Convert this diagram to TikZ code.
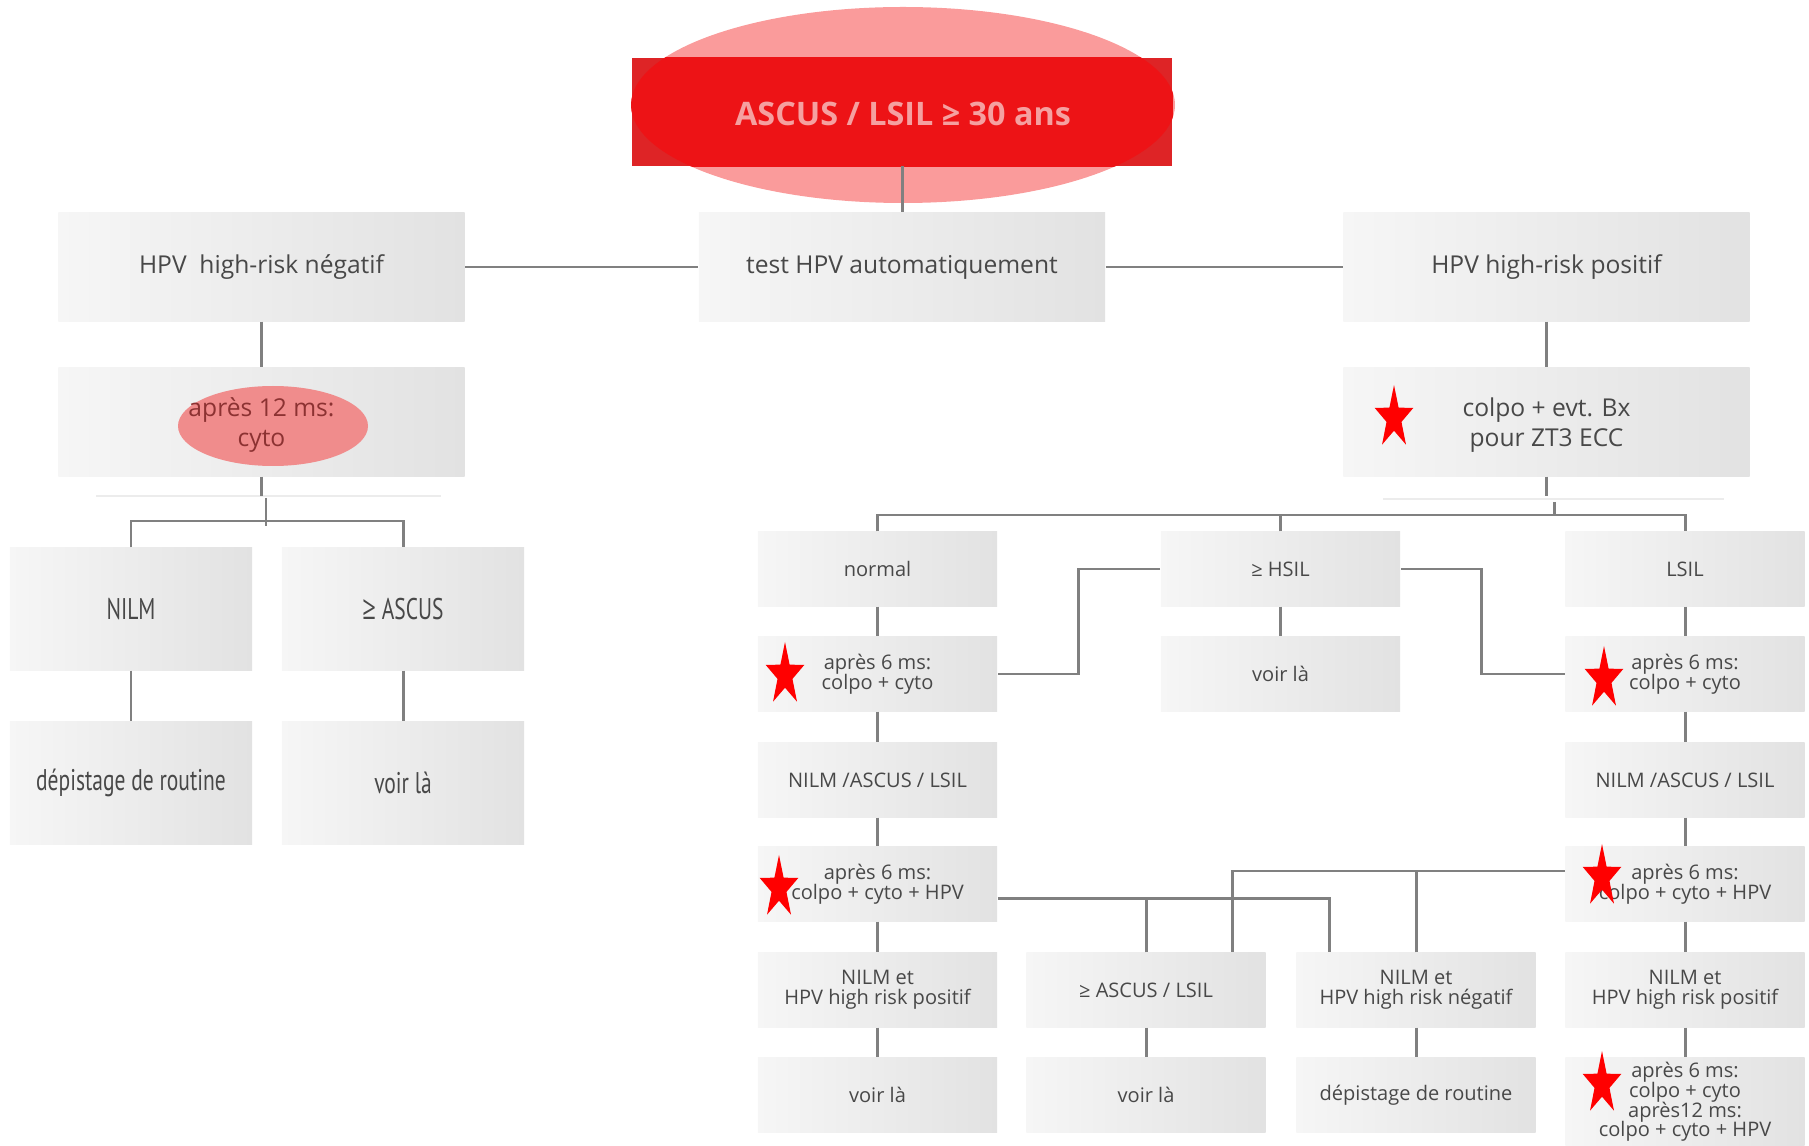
\documentclass[tikz,border=0pt]{standalone}
\usepackage{fontspec}
\setmainfont{Open Sans}
\newfontfamily\condfont[FakeStretch=0.72]{PT Sans}
\newfontfamily\symfont{Open Sans}
\newcommand\geqsym{{\symfont\scalebox{0.8}[1.1]{≥}}}
\newcommand\tightfont{\fontsize{5.7}{5.6}\selectfont\lineskiplimit=-10pt\relax}
\usepackage{tikz}
\usetikzlibrary{shapes.geometric}

\definecolor{textgray}{RGB}{72,72,72}
\definecolor{linegray}{RGB}{128,128,128}
\definecolor{boxl}{RGB}{246,246,246}
\definecolor{boxr}{RGB}{226,226,226}
\definecolor{faint}{RGB}{236,236,236}
\definecolor{rectred}{RGB}{237,19,22}
\definecolor{rectdark}{RGB}{222,36,38}
\definecolor{ovalpink}{RGB}{250,155,155}
\definecolor{titlepink}{RGB}{245,160,160}
\definecolor{cytopink}{RGB}{240,140,140}
\definecolor{cytotext}{RGB}{140,50,50}

\tikzset{
  bigbox/.style={left color=boxl, right color=boxr, minimum width=4.06cm, minimum height=1.08cm,
    inner sep=0pt, text=textgray, align=center, font=\fontsize{7}{8.6}\selectfont},
  leftbox/.style={left color=boxl, right color=boxr, minimum width=2.42cm, minimum height=1.22cm,
    inner sep=0pt, text=textgray, align=center, font=\condfont\fontsize{8.5}{9}\selectfont},
  smallbox/.style={left color=boxl, right color=boxr, minimum width=2.39cm, minimum height=0.74cm,
    inner sep=0pt, text=textgray, align=center, font=\tightfont},
  conn/.style={draw=linegray, line width=0.85pt},
  redstar/.style={star, star points=5, star point ratio=2.6, fill=red, inner sep=0pt,
    minimum size=0.6cm, xscale=0.68, yscale=1.1},
}

\begin{document}
\begin{tikzpicture}[x=0.01cm, y=-0.01cm]
  \useasboundingbox (0,0) rectangle (1809,1146);

  % title
  \fill[ovalpink] (903,105) ellipse [x radius=272, y radius=98];
  \node[fill=rectdark, minimum width=5.4cm, minimum height=1.07cm, inner sep=0pt] (top) at (902,112) {};
  \begin{scope}
    \clip (top.south west) rectangle (top.north east);
    \fill[rectred] (903,105) ellipse [x radius=272, y radius=98];
  \end{scope}
  \node[text=titlepink, font=\bfseries\fontsize{9.2}{11}\selectfont] (title) at (903,114) {ASCUS / LSIL ≥ 30 ans};

  % first rows
  \node[bigbox] (neg) at (261.5,267) {HPV\ \ high-risk négatif};
  \node[bigbox] (test) at (902,267) {test HPV automatiquement};
  \node[bigbox] (pos) at (1546.5,267) {HPV high-risk positif};
  \node[bigbox] (cyto12) at (261.5,422) {};
  \fill[cytopink] (273,426) ellipse [x radius=95, y radius=40];
  \node[text=cytotext, align=center, font=\fontsize{7}{8.6}\selectfont] (cyto12txt) at (261.5,425) {après 12 ms:\\cyto};
  \node[bigbox] (colpo) at (1546.5,422) {};
  \node[text=textgray, align=center, font=\fontsize{7}{8.6}\selectfont] (colpotxt) at (1546.5,425) {colpo + evt. Bx\\pour ZT3 ECC};
  \node[redstar] (s1) at (1394,418) {};

  \draw[conn] (top.south) -- (test.north);
  \draw[conn] (neg.east) -- (test.west);
  \draw[conn] (test.east) -- (pos.west);
  \draw[conn] (neg) -- (cyto12);
  \draw[conn] (pos) -- (colpo);

  % left branch
  \node[leftbox] (nilm) at (131,609) {NILM};
  \node[leftbox] (ascus) at (403,609) {\geqsym\ ASCUS};
  \node[leftbox] (dep1) at (131,783) {dépistage de routine};
  \node[leftbox] (voir1) at (403,783) {voir là};

  \coordinate (ltick) at (266,498);
  \coordinate (lsplit) at (266,521);
  \draw[faint, line width=0.8pt] (96,496) -- (441,496);
  \draw[conn] (cyto12.south) -- ++(0,19);
  \draw[conn] (ltick) -- ++(0,28);
  \draw[conn] (nilm.north) |- (lsplit) -| (ascus.north);
  \draw[conn] (nilm) -- (dep1);
  \draw[conn] (ascus) -- (voir1);

  % right branch
  \node[smallbox] (normal) at (877.5,569) {normal};
  \node[smallbox] (hsil) at (1280.5,569) {≥ HSIL};
  \node[smallbox] (lsil) at (1685,569) {LSIL};
  \node[smallbox] (a6l) at (877.5,674) {après 6 ms:\\colpo + cyto};
  \node[smallbox] (voirh) at (1280.5,674) {voir là};
  \node[smallbox] (a6r) at (1685,674) {après 6 ms:\\colpo + cyto};
  \node[smallbox] (nal) at (877.5,780) {NILM /ASCUS / LSIL};
  \node[smallbox] (nar) at (1685,780) {NILM /ASCUS / LSIL};
  \node[smallbox] (a6hl) at (877.5,884) {après 6 ms:\\colpo + cyto + HPV};
  \node[smallbox] (a6hr) at (1685,884) {après 6 ms:\\colpo + cyto + HPV};
  \node[smallbox] (nposl) at (877.5,990) {NILM et\\HPV high risk positif};
  \node[smallbox] (ascl) at (1146,990) {≥ ASCUS / LSIL};
  \node[smallbox] (nneg) at (1416,990) {NILM et\\HPV high risk négatif};
  \node[smallbox] (nposr) at (1685,990) {NILM et\\HPV high risk positif};
  \node[smallbox] (voirl) at (877.5,1095) {voir là};
  \node[smallbox] (voira) at (1146,1095) {voir là};
  \node[smallbox] (dep2) at (1416,1095) {dépistage de routine};
  \node[smallbox, minimum height=0.88cm] (last) at (1685,1102) {après 6 ms:\\colpo + cyto\\après12 ms:\\colpo + cyto + HPV};

  \node[redstar] (s2) at (785,675) {};
  \node[redstar] (s3) at (779,888) {};
  \node[redstar] (s4) at (1604,679) {};
  \node[redstar] (s5) at (1602,877) {};
  \node[redstar] (s6) at (1602,1084) {};

  \coordinate (rtick) at (1554,502);
  \coordinate (rsplit) at (1554,515);
  \draw[faint, line width=0.8pt] (1383,499) -- (1724,499);
  \draw[conn] (colpo.south) -- ++(0,19);
  \draw[conn] (rtick) -- (rsplit);
  \draw[conn] (normal.north) |- (rsplit) -| (lsil.north);
  \draw[conn] (hsil.north) -- (hsil.north |- rsplit);

  \draw[conn] (normal) -- (a6l);
  \draw[conn] (a6l) -- (nal);
  \draw[conn] (nal) -- (a6hl);
  \draw[conn] (a6hl) -- (nposl);
  \draw[conn] (nposl) -- (voirl);
  \draw[conn] (hsil) -- (voirh);
  \draw[conn] (lsil) -- (a6r);
  \draw[conn] (a6r) -- (nar);
  \draw[conn] (nar) -- (a6hr);
  \draw[conn] (a6hr) -- (nposr);
  \draw[conn] (nposr) -- (last);
  \draw[conn] (ascl) -- (voira);
  \draw[conn] (nneg) -- (dep2);

  \draw[conn] (hsil.west) -- ++(-82,0) |- (a6l.east);
  \draw[conn] (hsil.east) -- ++(81,0) |- (a6r.west);

  \coordinate (lowL) at ([yshift=-0.14cm]a6hl.east);
  \coordinate (lowR) at ([yshift=0.13cm]a6hr.west);
  \draw[conn] (lowL) -| ([xshift=-0.86cm]nneg.north);
  \draw[conn] (ascl.north) -- (ascl.north |- lowL);
  \draw[conn] (lowR) -| ([xshift=0.86cm]ascl.north);
  \draw[conn] (nneg.north) -- (nneg.north |- lowR);
\end{tikzpicture}
\end{document}
